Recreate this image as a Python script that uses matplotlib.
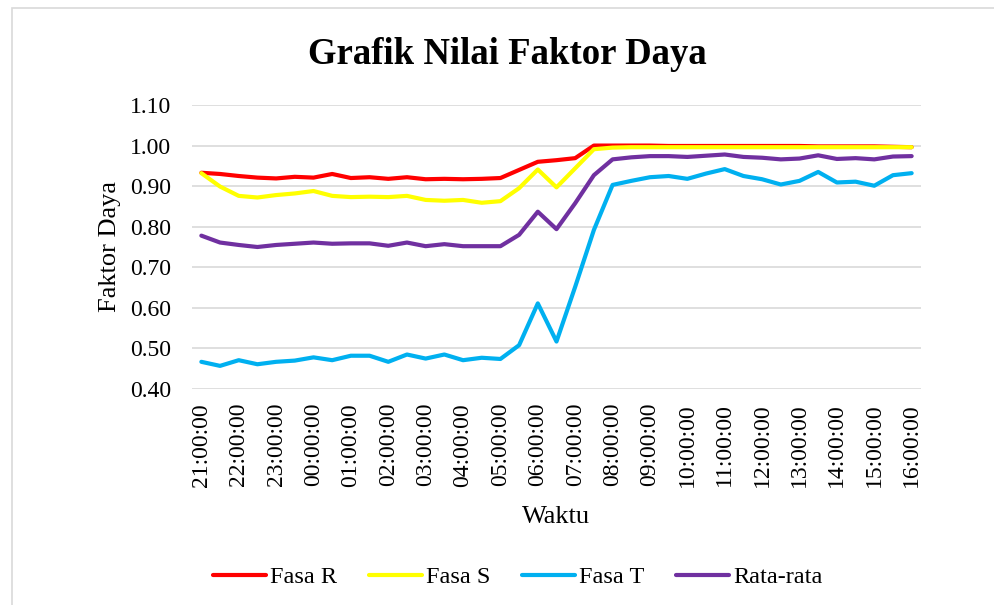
import numpy as np
import matplotlib.pyplot as plt
from matplotlib.patches import Rectangle

# Waktu: setiap 30 menit dari 21:00 sampai 16:00 (39 titik)
hours = [21, 22, 23] + list(range(0, 17))
waktu = []
for h in hours:
    waktu.append('%02d:00:00' % h)
    if h != 16:
        waktu.append('%02d:30:00' % h)

fasa_r = [0.933, 0.930, 0.925, 0.921, 0.919, 0.923, 0.921, 0.930, 0.920, 0.922,
          0.918, 0.922, 0.917, 0.918, 0.917, 0.918, 0.920, 0.940, 0.960, 0.964,
          0.969, 1.000, 1.000, 1.000, 1.000, 0.999, 0.999, 0.999, 0.999, 0.999,
          0.999, 0.999, 0.999, 0.998, 0.998, 0.998, 0.998, 0.997, 0.996]
fasa_s = [0.932, 0.899, 0.876, 0.872, 0.878, 0.882, 0.888, 0.876, 0.873, 0.874,
          0.873, 0.876, 0.866, 0.864, 0.866, 0.859, 0.863, 0.895, 0.941, 0.897,
          0.944, 0.991, 0.995, 0.996, 0.996, 0.996, 0.996, 0.996, 0.996, 0.996,
          0.996, 0.996, 0.996, 0.996, 0.996, 0.996, 0.996, 0.996, 0.996]
fasa_t = [0.467, 0.457, 0.471, 0.461, 0.467, 0.470, 0.478, 0.471, 0.482, 0.482,
          0.467, 0.485, 0.475, 0.485, 0.471, 0.477, 0.474, 0.508, 0.611, 0.517,
          0.652, 0.792, 0.903, 0.913, 0.922, 0.925, 0.918, 0.931, 0.942, 0.925,
          0.917, 0.904, 0.913, 0.935, 0.909, 0.911, 0.901, 0.927, 0.932]
rata_rata = [0.778, 0.761, 0.755, 0.750, 0.755, 0.758, 0.761, 0.758, 0.759, 0.759,
             0.753, 0.761, 0.752, 0.757, 0.752, 0.752, 0.752, 0.780, 0.837, 0.794,
             0.858, 0.927, 0.966, 0.971, 0.974, 0.974, 0.972, 0.975, 0.978, 0.972,
             0.970, 0.966, 0.968, 0.976, 0.967, 0.969, 0.966, 0.973, 0.974]

series = [('Fasa R', fasa_r, '#FF0000'),
          ('Fasa S', fasa_s, '#FFFF00'),
          ('Fasa T', fasa_t, '#00B0F0'),
          ('Rata-rata', rata_rata, '#7030A0')]

plt.rcParams['font.family'] = ['Liberation Serif', 'DejaVu Serif']

W, H = 994, 605
fig = plt.figure(figsize=(W / 100, H / 100), dpi=100)
fig.patch.set_facecolor('white')

# chart area border (Excel style)
fig.patches.append(Rectangle((12 / W, -0.1), 1.2, 1 - 8 / H + 0.1,
                             transform=fig.transFigure, fill=False,
                             edgecolor='#D9D9D9', linewidth=1.2))

ax = fig.add_axes([192 / W, 1 - 389 / H, 729 / W, 284 / H])
x = np.arange(len(waktu))
for name, vals, col in series:
    ax.plot(x, vals, color=col, linewidth=3.0, label=name,
            solid_capstyle='round', solid_joinstyle='round')

ax.set_xlim(-0.5, len(waktu) - 0.5)
ax.set_ylim(0.40, 1.10)
ax.set_yticks(np.arange(0.40, 1.101, 0.10))
ax.yaxis.set_major_formatter(plt.FuncFormatter(lambda v, p: '%.2f' % v))
ax.set_xticks(x[::2])
ax.set_xticklabels(waktu[::2], rotation=90)
ax.grid(axis='y', color='#D9D9D9', linewidth=1.2)
ax.set_axisbelow(True)
for s in ax.spines.values():
    s.set_visible(False)
ax.tick_params(axis='both', length=0, labelsize=17, colors='#000000')
ax.tick_params(axis='y', pad=15)
ax.tick_params(axis='x', pad=10)

fig.text(507.5 / W, 1 - 64 / H, 'Grafik Nilai Faktor Daya', ha='center',
         va='baseline', fontsize=26.5, fontweight='bold')
fig.text(556.5 / W, 1 - 523 / H, 'Waktu', ha='center', va='baseline',
         fontsize=19)
fig.text(110 / W, 1 - 247 / H, 'Faktor Daya', ha='center', va='center',
         rotation=90, fontsize=19)

fig.legend(loc='center', bbox_to_anchor=(517.5 / W, 1 - 577 / H), ncol=4,
           frameon=False, fontsize=17.5, handlelength=2.2, handletextpad=0.15,
           columnspacing=1.3)

fig.savefig('out.png', dpi=100)
